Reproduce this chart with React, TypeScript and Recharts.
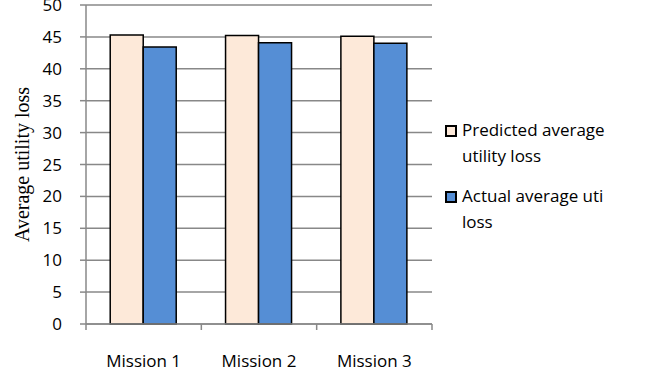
import React from 'react';
import { BarChart, Bar, XAxis, YAxis, CartesianGrid, Legend } from 'recharts';

const missions = ['Mission 1', 'Mission 2', 'Mission 3'];
const predicted = [45.3, 45.2, 45.1];
const actual = [43.4, 44.1, 44.0];
const yTicks = [0, 5, 10, 15, 20, 25, 30, 35, 40, 45, 50];
const seriesNames = ['Predicted average utility loss', 'Actual average uti loss'];
const yTitle = 'Average utility loss';

const GRID = '#888888';
const FONT = '"Open Sans", sans-serif';

const chartData = missions.map((name, i) => ({ name, predicted: predicted[i], actual: actual[i] }));

// label in the middle of the band, tick marks on the band edges (Excel style)
const MissionTick = (props: any) => {
  const { x, y, payload, index, width, visibleTicksCount } = props;
  const half = width / visibleTicksCount / 2;
  const last = index === visibleTicksCount - 1;
  return (
    <g>
      <line x1={x - half} y1={y} x2={x - half} y2={y + 6} stroke={GRID} strokeWidth={1.5} />
      {last && <line x1={x + half} y1={y} x2={x + half} y2={y + 6} stroke={GRID} strokeWidth={1.5} />}
      <text x={x} y={y + 43} textAnchor="middle" fontFamily={FONT} fontSize={17} fill="#000">
        {payload.value}
      </text>
    </g>
  );
};

const YTitle = (props: any) => {
  const { viewBox } = props;
  const cx = viewBox.x + 29;
  const cy = viewBox.y + viewBox.height / 2;
  return (
    <text
      x={cx}
      y={cy}
      transform={`rotate(-90, ${cx}, ${cy})`}
      textAnchor="middle"
      fontFamily='"Liberation Serif", serif'
      fontSize={20}
      fill="#000"
    >
      {yTitle}
    </text>
  );
};

const LegendBox = (props: any) => {
  const items = [...(props.payload || [])].sort(
    (a: any, b: any) => seriesNames.indexOf(a.value) - seriesNames.indexOf(b.value)
  );
  return (
    <div>
      {items.map((p: any, i: number) => (
        <div key={i} style={{ display: 'flex', alignItems: 'flex-start', marginBottom: 14 }}>
          <span
            style={{
              width: 12,
              height: 12,
              boxSizing: 'border-box',
              border: '2px solid #000',
              background: p.color,
              marginTop: 8,
              marginRight: 5,
              flexShrink: 0,
            }}
          />
          <span style={{ width: 160, lineHeight: '26px', fontSize: 17, fontFamily: FONT, color: '#000' }}>
            {p.value}
          </span>
        </div>
      ))}
    </div>
  );
};

export default function App() {
  return (
    <div style={{ position: 'absolute', left: 0, top: 0, background: '#fff' }}>
      <BarChart
        width={645}
        height={378}
        data={chartData}
        margin={{ top: 5, right: 213, left: 0, bottom: 0 }}
        barCategoryGap="21%"
        barGap={0}
      >
        <CartesianGrid vertical={false} stroke={GRID} strokeWidth={1.5} />
        <XAxis
          dataKey="name"
          interval={0}
          tick={<MissionTick />}
          tickLine={false}
          tickSize={0}
          tickMargin={0}
          axisLine={{ stroke: GRID, strokeWidth: 1.5 }}
          height={54}
        />
        <YAxis
          domain={[0, 50]}
          ticks={yTicks}
          interval={0}
          width={86}
          tickSize={6}
          tickMargin={18}
          axisLine={{ stroke: GRID, strokeWidth: 1.5 }}
          tickLine={{ stroke: GRID, strokeWidth: 1.5 }}
          tick={{ fontFamily: FONT, fontSize: 17, fill: '#000' }}
          label={<YTitle />}
        />
        <YAxis
          yAxisId="right"
          orientation="right"
          domain={[0, 50]}
          width={0}
          tick={false}
          tickLine={false}
          axisLine={{ stroke: GRID, strokeWidth: 1.5 }}
        />
        <Legend
          layout="horizontal"
          verticalAlign="middle"
          align="center"
          itemSorter={null as any}
          wrapperStyle={{ left: 445, top: 117, width: 200 }}
          content={<LegendBox />}
        />
        <Bar
          dataKey="predicted"
          name={seriesNames[0]}
          fill="#FDE9D9"
          stroke="#000"
          strokeWidth={1.5}
          isAnimationActive={false}
        />
        <Bar
          dataKey="actual"
          name={seriesNames[1]}
          fill="#558ED5"
          stroke="#000"
          strokeWidth={1.5}
          isAnimationActive={false}
        />
      </BarChart>
    </div>
  );
}
